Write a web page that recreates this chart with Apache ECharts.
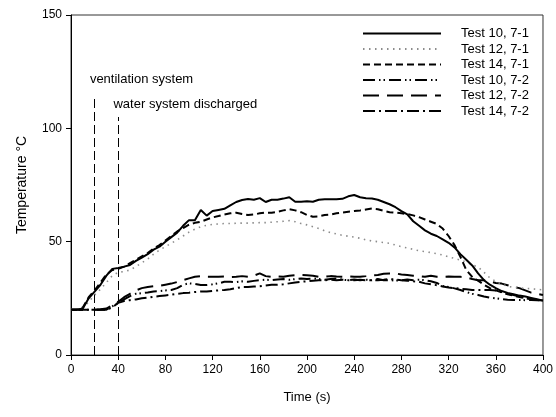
<!DOCTYPE html>
<html><head><meta charset="utf-8">
<script src="https://cdn.jsdelivr.net/npm/echarts@6/dist/echarts.min.js"></script>
<style>html,body{margin:0;padding:0;background:#fff}#c{width:556px;height:417px}</style>
</head><body><div id="c"></div>
<script>
const times = [];
for (let t = 0; t <= 400; t += 5) times.push(t);

const seriesNames = ['Test 10, 7-1','Test 12, 7-1','Test 14, 7-1','Test 10, 7-2','Test 12, 7-2','Test 14, 7-2'];

const test10_71 = [20,20,20.5,25,28,31,35,38,38.4,39,39.7,41.5,43,44.5,46.5,47.8,50,52,54,57,59.5,59.5,64,61.5,63.5,64,64.5,66,67.5,68.4,68.8,68.5,69.2,67.5,68.5,68.5,69,69.6,67.6,67.6,67.8,67.6,68.5,68.7,68.7,68.7,68.9,70,70.6,69.6,69.2,69,68.5,67.5,66.5,65.2,63.5,62,59,57,55,53.5,52.5,51,49.5,47.5,44.5,42,39.5,36,33,31,29.5,28.2,27.4,26.8,26.2,25.8,25.2,24.6,24];
const test12_71 = [20,20,20.5,23.5,26.5,29,32,35,36.5,36.8,37.5,39,40.7,42.3,44.5,46.3,47.8,49.3,50.8,52.5,54.2,55.5,56.6,57.2,57.6,57.8,58,58,58.1,58.2,58.2,58.3,58.4,58.4,58.6,58.8,59,59.3,58.8,58,57.4,56.6,55.8,54.8,54,53.4,52.8,52.4,52,51.5,50.8,50.3,50,49.6,49.3,48.5,47.8,47.2,46.6,46,45.6,45.2,44.7,44.1,43.3,42.6,41.9,41,39.8,38.8,36.5,34,32.5,31.2,30.3,29.9,29.6,29.4,29.2,29,28.7];
const test14_71 = [20,20,21,25.5,28.5,32,35.5,37.5,38,39,40.5,42,43.5,45,47,48.5,50.5,52.5,54.5,56,57.5,58.3,58.8,59.8,60.7,61.3,62,62.5,62.8,62.2,61.8,62,62.5,62.8,62.8,63.2,63.8,64.3,63.8,63,61.8,61,61.2,61.8,62,62.5,62.8,63.2,63.5,63.8,64.2,64.6,64.3,63.6,63,62.8,62.5,62.2,61.6,60.8,59.8,58.8,57.8,55.8,52.5,48.5,43.3,37.5,34.5,32.8,31,29.5,28.5,27.6,26.8,26.2,25.6,25,24.6,24.3,24];
const test10_72 = [20,20,20,20,20,20,20,21.5,23,24.5,26,27,27.3,27.6,28,28.2,28.5,28.7,29.5,31,31.6,31.4,30.9,30.9,31.2,31.6,32.3,32.3,32.2,32.5,32.3,32.7,33,33.2,33,33.3,33.5,33.2,33.5,33.8,33.5,33.8,33.5,33.2,33.5,33.8,33.2,33,33.3,33,33.2,33,33.5,33,33,32.8,33,33.3,33,33.2,33,32.5,31.8,30.5,30,29.4,28.7,27.8,27,26.5,25.8,25.3,25,24.6,24.4,24.3,24.3,24.2,24.3,24.2,24.3];
const test12_72 = [20,20,20,20,20,20.2,20.5,22,23.5,25.5,27,28.5,29.5,30,30.3,30.5,31,31.5,32.2,33,33.8,34.5,34.8,34.5,34.5,34.5,34.6,34.4,34.5,34.8,34.5,35,36,34.8,34.5,34.7,34.5,35,35.2,35.3,35.2,35,34.5,34.5,34.8,34.6,34.5,34.7,34.5,34.5,34.8,35.2,35.3,35.8,36,36,35.5,35.3,35,34.8,34.5,35,34.5,34.5,34.6,34.5,34.5,34.3,33.5,33,33,32.5,31.8,31.5,30.8,30,29.5,28.5,27.5,27,26.5];
const test14_72 = [20,20,20,20,20,20,20,21,23,23.8,24.2,24.5,25,25.3,25.7,26,26.3,26.6,27,27.3,27.5,27.8,28,28,28.3,28.5,28.7,29,29.5,30,30,30.2,30.3,30.7,31,31,31.2,31.6,32,32.3,32.5,32.8,33,33,33.2,33,33.2,33,33,33.2,33,33,33,33.2,33.5,33.3,33,32.8,32.5,32.3,31.6,31.2,30.8,30.2,29.8,29.5,29.2,29,28.7,28.7,28.7,28.7,28.5,27.8,27,26.5,25.8,25.2,24.8,24.3,24];

const xTicks = [0,40,80,120,160,200,240,280,320,360,400];
const yTicks = [0,50,100,150];
const eventTimes = [20, 40];
const eventLabels = ['ventilation system', 'water system discharged'];
const eventLineTops = [114, 105];
const eventLabelPos = [[16, 121.5], [36, 110.5]];

const values = [test10_71, test12_71, test14_71, test10_72, test12_72, test14_72];
const styles = [
  {color:'#000', width:2, type:'solid'},
  {color:'#8c8c8c', width:1.6, type:[1.5,4.5]},
  {color:'#000', width:2, type:[7,4]},
  {color:'#000', width:2, type:[12,4,1.5,3,1.5,4]},
  {color:'#000', width:2, type:[16,8]},
  {color:'#000', width:2, type:[12,4,2,4]}
];

const series = seriesNames.map((name, i) => ({
  name,
  type: 'line',
  data: times.map((t, k) => [t, values[i][k]]),
  symbol: 'none',
  showSymbol: false,
  smooth: false,
  z: 3 + (6 - i),
  lineStyle: {color: styles[i].color, width: styles[i].width, type: styles[i].type},
  itemStyle: {color: styles[i].color}
}));

series.push({
  name: 'events',
  type: 'line',
  data: [],
  silent: true,
  markLine: {
    symbol: ['none','none'],
    silent: true,
    lineStyle: {color:'#000', width:1, type:[9,4]},
    label: {show:false},
    data: eventTimes.map((t, i) => [{coord:[t, 0]}, {coord:[t, eventLineTops[i]]}])
  },
  markPoint: {
    symbol: 'circle', symbolSize: 0, silent: true,
    label: {show:true, position:'right', distance:0, color:'#000', fontSize:13, fontFamily:'Liberation Sans, Arial, sans-serif', formatter: p => p.name},
    data: eventLabels.map((l, i) => ({name: l, coord: eventLabelPos[i]}))
  }
});

const chart = echarts.init(document.getElementById('c'), null, {renderer:'canvas'});
chart.setOption({
  animation: false,
  backgroundColor: '#fff',
  textStyle: {fontFamily: 'Liberation Sans, Arial, sans-serif'},
  grid: {left: 71, right: 13, top: 15, bottom: 62, show: true, borderColor: '#333', borderWidth: 1, backgroundColor: 'transparent'},
  legend: {
    data: seriesNames,
    orient: 'vertical',
    left: 362, top: 27,
    itemWidth: 78, itemHeight: 10, itemGap: 2.5,
    itemStyle: {opacity: 0},
    textStyle: {color:'#000', fontSize: 13, padding:[0,0,0,15]},
    padding: 0
  },
  xAxis: {
    type: 'value', min: 0, max: 400, interval: 40,
    name: 'Time (s)', nameLocation: 'middle', nameGap: 36,
    nameTextStyle: {color:'#000', fontSize: 13},
    axisLine: {show:true, lineStyle:{color:'#000', width:1}},
    axisTick: {show:true, inside:false, length:5, lineStyle:{color:'#000'}},
    axisLabel: {color:'#000', fontSize:12, margin:9, formatter: v => xTicks.includes(v) ? String(v) : ''},
    splitLine: {show:false}
  },
  yAxis: {
    type: 'value', min: 0, max: 150, interval: 50,
    name: 'Temperature °C', nameLocation: 'middle', nameGap: 42,
    nameTextStyle: {color:'#000', fontSize: 14},
    axisLine: {show:true, lineStyle:{color:'#000', width:1}},
    axisTick: {show:true, inside:false, length:5, lineStyle:{color:'#000'}},
    axisLabel: {color:'#000', fontSize:12, margin:9, formatter: v => yTicks.includes(v) ? String(v) : ''},
    splitLine: {show:false}
  },
  series
});
</script></body></html>
